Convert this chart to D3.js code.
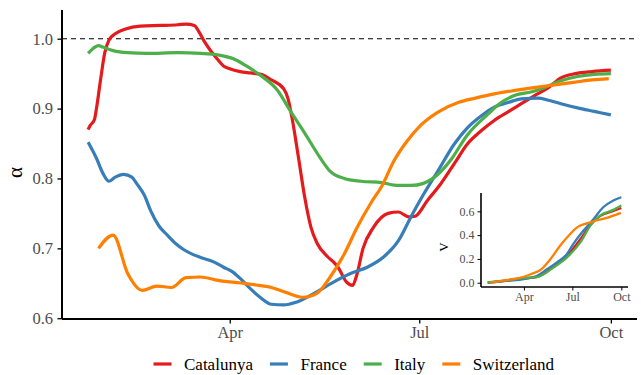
<!DOCTYPE html>
<html>
<head>
<meta charset="utf-8">
<script src="https://cdn.jsdelivr.net/npm/d3@7"></script>
<style>
  html, body { margin: 0; padding: 0; background: #fff; }
  svg { display: block; font-family: "Liberation Serif", "Times New Roman", serif; }
</style>
</head>
<body>
<svg id="chart" width="641" height="375"></svg>
<script>
// Series order drives drawing order and the legend.
const countries = ["Catalunya", "France", "Italy", "Switzerland"];

// Effective alpha per country, [date, value].
const alphaCatalunya = [
  ["2020-01-24",0.870],["2020-01-25",0.876],["2020-01-27",0.884],["2020-01-28",0.900],
  ["2020-01-30",0.942],["2020-02-01",0.980],["2020-02-03",0.998],["2020-02-06",1.007],
  ["2020-02-11",1.014],["2020-02-18",1.018],["2020-02-28",1.019],["2020-03-07",1.020],
  ["2020-03-11",1.021],["2020-03-15",1.019],["2020-03-17",1.011],["2020-03-20",0.995],
  ["2020-03-23",0.982],["2020-03-26",0.971],["2020-03-29",0.961],["2020-04-01",0.957],
  ["2020-04-06",0.953],["2020-04-11",0.951],["2020-04-16",0.949],["2020-04-21",0.941],
  ["2020-04-27",0.928],["2020-04-29",0.914],["2020-05-01",0.885],["2020-05-04",0.830],
  ["2020-05-07",0.773],["2020-05-10",0.730],["2020-05-13",0.707],["2020-05-18",0.688],
  ["2020-05-21",0.680],["2020-05-23",0.673],["2020-05-27",0.652],["2020-05-30",0.647],
  ["2020-06-01",0.662],["2020-06-04",0.700],["2020-06-09",0.730],["2020-06-16",0.750],
  ["2020-06-21",0.752],["2020-06-26",0.745],["2020-06-29",0.746],["2020-07-05",0.769],
  ["2020-07-11",0.791],["2020-07-18",0.822],["2020-07-24",0.849],["2020-07-31",0.869],
  ["2020-08-06",0.883],["2020-08-13",0.896],["2020-08-19",0.907],["2020-08-25",0.918],
  ["2020-09-01",0.930],["2020-09-07",0.944],["2020-09-14",0.950],["2020-09-22",0.953],
  ["2020-10-01",0.955]
];
const alphaFrance = [
  ["2020-01-24",0.852],["2020-01-28",0.829],["2020-01-31",0.808],["2020-02-03",0.796],
  ["2020-02-06",0.802],["2020-02-10",0.806],["2020-02-14",0.802],["2020-02-16",0.794],
  ["2020-02-20",0.776],["2020-02-23",0.754],["2020-02-27",0.732],["2020-03-02",0.719],
  ["2020-03-06",0.707],["2020-03-10",0.698],["2020-03-18",0.687],["2020-03-24",0.681],
  ["2020-03-29",0.673],["2020-04-02",0.667],["2020-04-06",0.657],["2020-04-11",0.642],
  ["2020-04-16",0.629],["2020-04-21",0.620],["2020-04-27",0.619],["2020-05-03",0.623],
  ["2020-05-13",0.638],["2020-05-21",0.652],["2020-05-29",0.664],["2020-06-06",0.673],
  ["2020-06-14",0.688],["2020-06-21",0.711],["2020-06-27",0.745],["2020-07-03",0.777],
  ["2020-07-10",0.811],["2020-07-18",0.850],["2020-07-24",0.872],["2020-07-31",0.890],
  ["2020-08-06",0.902],["2020-08-13",0.909],["2020-08-19",0.914],["2020-08-27",0.915],
  ["2020-09-01",0.912],["2020-09-07",0.907],["2020-09-15",0.901],["2020-09-23",0.896],
  ["2020-10-01",0.891]
];
const alphaItaly = [
  ["2020-01-24",0.979],["2020-01-26",0.985],["2020-01-29",0.990],["2020-01-31",0.988],
  ["2020-02-05",0.983],["2020-02-12",0.980],["2020-02-21",0.979],["2020-03-07",0.980],
  ["2020-03-18",0.979],["2020-03-26",0.977],["2020-04-03",0.971],["2020-04-09",0.961],
  ["2020-04-16",0.947],["2020-04-24",0.926],["2020-04-30",0.897],["2020-05-07",0.865],
  ["2020-05-15",0.827],["2020-05-19",0.811],["2020-05-26",0.800],["2020-06-03",0.796],
  ["2020-06-13",0.794],["2020-06-21",0.790],["2020-06-27",0.790],["2020-07-03",0.793],
  ["2020-07-10",0.806],["2020-07-16",0.826],["2020-07-24",0.862],["2020-08-03",0.892],
  ["2020-08-09",0.908],["2020-08-16",0.919],["2020-08-24",0.924],["2020-08-30",0.930],
  ["2020-09-07",0.940],["2020-09-15",0.946],["2020-09-23",0.949],["2020-10-01",0.950]
];
const alphaSwitzerland = [
  ["2020-01-29",0.700],["2020-02-05",0.719],["2020-02-12",0.664],["2020-02-19",0.640],
  ["2020-02-26",0.646],["2020-03-04",0.644],["2020-03-11",0.658],["2020-03-18",0.659],
  ["2020-03-25",0.655],["2020-04-01",0.652],["2020-04-08",0.650],["2020-04-15",0.647],
  ["2020-04-21",0.644],["2020-04-27",0.638],["2020-05-06",0.630],["2020-05-13",0.636],
  ["2020-05-19",0.658],["2020-05-26",0.692],["2020-06-01",0.729],["2020-06-08",0.766],
  ["2020-06-13",0.789],["2020-06-19",0.826],["2020-06-25",0.853],["2020-07-02",0.877],
  ["2020-07-10",0.895],["2020-07-20",0.909],["2020-07-28",0.915],["2020-08-06",0.921],
  ["2020-08-16",0.926],["2020-08-25",0.930],["2020-09-04",0.934],["2020-09-14",0.938],
  ["2020-09-22",0.941],["2020-09-30",0.943]
];

// Cumulative V per country (inset).
const vCatalunya = [
  ["2020-01-24",0.000],["2020-03-01",0.018],["2020-04-01",0.036],["2020-04-26",0.050],
  ["2020-05-27",0.135],["2020-06-21",0.228],["2020-07-16",0.365],["2020-08-04",0.488],
  ["2020-08-22",0.560],["2020-09-16",0.603],["2020-10-01",0.628]
];
const vFrance = [
  ["2020-01-24",0.000],["2020-03-01",0.017],["2020-04-01",0.031],["2020-04-26",0.059],
  ["2020-05-15",0.115],["2020-06-02",0.171],["2020-06-21",0.242],["2020-07-03",0.326],
  ["2020-07-22",0.438],["2020-08-10",0.536],["2020-08-28",0.634],["2020-09-16",0.690],
  ["2020-10-01",0.718]
];
const vItaly = [
  ["2020-01-24",0.003],["2020-03-01",0.021],["2020-04-01",0.040],["2020-04-26",0.047],
  ["2020-05-27",0.129],["2020-06-21",0.213],["2020-07-16",0.339],["2020-08-04",0.480],
  ["2020-08-22",0.564],["2020-09-16",0.612],["2020-10-01",0.648]
];
const vSwitzerland = [
  ["2020-01-29",0.000],["2020-03-01",0.023],["2020-04-01",0.050],["2020-04-16",0.075],
  ["2020-05-02",0.107],["2020-05-21",0.199],["2020-06-08",0.311],["2020-06-27",0.410],
  ["2020-07-10",0.465],["2020-07-16",0.480],["2020-08-10",0.516],["2020-09-04",0.545],
  ["2020-09-30",0.587]
];

const alphaTicks = [0.6, 0.7, 0.8, 0.9, 1.0];
const vTicks = [0.0, 0.2, 0.4, 0.6];
const monthTicks = [["2020-04-01","Apr"],["2020-07-01","Jul"],["2020-10-01","Oct"]];
const referenceAlpha = 1.0;

const palette = { Catalunya: "#E41A1C", France: "#377EB8", Italy: "#4DAF4A", Switzerland: "#FF7F00" };

const parse = d3.utcParse("%Y-%m-%d");
const toPoints = arr => arr.map(([d, v]) => ({ date: parse(d), value: v }));

const alphaSeries = [alphaCatalunya, alphaFrance, alphaItaly, alphaSwitzerland]
  .map((arr, i) => ({ name: countries[i], points: toPoints(arr) }));
const vSeries = [vCatalunya, vFrance, vItaly, vSwitzerland]
  .map((arr, i) => ({ name: countries[i], points: toPoints(arr) }));

// ggplot-like 5% padding around the data range
function padded(extent, frac) {
  const span = extent[1] - extent[0];
  return [extent[0] - span * frac, extent[1] + span * frac];
}
function paddedTime(extent, frac) {
  const span = extent[1] - extent[0];
  return [new Date(+extent[0] - span * frac), new Date(+extent[1] + span * frac)];
}

const svg = d3.select("#chart");
const font = '"Liberation Serif", "Times New Roman", serif';
const tickGrey = "#4D4D4D";

// ---------- main panel ----------
const main = { left: 62, right: 637, top: 10, bottom: 319 };
const allAlpha = alphaSeries.flatMap(s => s.points);
const x = d3.scaleUtc()
  .domain(paddedTime(d3.extent(allAlpha, p => p.date), 0.05))
  .range([main.left, main.right]);
const y = d3.scaleLinear()
  .domain(padded(d3.extent(allAlpha, p => p.value), 0.05))
  .range([main.bottom, main.top]);

const line = d3.line()
  .x(p => x(p.date)).y(p => y(p.value))
  .curve(d3.curveMonotoneX);

// reference line at alpha = 1
svg.append("line")
  .attr("x1", main.left).attr("x2", main.right)
  .attr("y1", y(referenceAlpha)).attr("y2", y(referenceAlpha))
  .attr("stroke", "#000").attr("stroke-width", 1.1)
  .attr("stroke-dasharray", "5,4");

svg.append("g").selectAll("path")
  .data(alphaSeries).join("path")
  .attr("d", s => line(s.points))
  .attr("fill", "none")
  .attr("stroke", s => palette[s.name])
  .attr("stroke-width", 3.2)
  .attr("stroke-linejoin", "round")
  .attr("stroke-linecap", "butt");

// axes
const yAxis = svg.append("g")
  .attr("transform", `translate(${main.left},0)`)
  .call(d3.axisLeft(y).tickValues(alphaTicks).tickFormat(d3.format(".1f"))
    .tickSize(4.5).tickPadding(4).tickSizeOuter(0));
yAxis.select(".domain").attr("d", `M0,${main.top}V${main.bottom}`);
const xAxis = svg.append("g")
  .attr("transform", `translate(0,${main.bottom})`)
  .call(d3.axisBottom(x).tickValues(monthTicks.map(t => parse(t[0])))
    .tickFormat((d, i) => monthTicks[i][1]).tickSize(4.5).tickPadding(3).tickSizeOuter(0));
xAxis.select(".domain").attr("d", `M${main.left},0H${main.right}`);

[yAxis, xAxis].forEach(g => {
  g.select(".domain").attr("stroke", "#000").attr("stroke-width", 2);
  g.selectAll(".tick line").attr("stroke", "#000").attr("stroke-width", 1.3);
  g.selectAll(".tick text").attr("fill", tickGrey)
    .style("font-family", font).style("font-size", "16.5px");
});
yAxis.selectAll(".tick text").attr("x", -9);

svg.append("text")
  .attr("transform", `translate(21.5,${(main.top + main.bottom) / 2 + 8}) rotate(-90)`)
  .attr("text-anchor", "middle")
  .style("font-family", font).style("font-size", "21px")
  .attr("fill", "#000")
  .text("α");

// ---------- inset panel ----------
const inset = { left: 481, right: 628, top: 193, bottom: 287 };
const allV = vSeries.flatMap(s => s.points);
const xi = d3.scaleUtc().domain(x.domain()).range([inset.left, inset.right]);
const yi = d3.scaleLinear()
  .domain(padded(d3.extent(allV, p => p.value), 0.05))
  .range([inset.bottom, inset.top]);
const lineInset = d3.line()
  .x(p => xi(p.date)).y(p => yi(p.value))
  .curve(d3.curveMonotoneX);

svg.append("g").selectAll("path")
  .data(vSeries).join("path")
  .attr("d", s => lineInset(s.points))
  .attr("fill", "none")
  .attr("stroke", s => palette[s.name])
  .attr("stroke-width", 2.3)
  .attr("stroke-linejoin", "round");

const yiAxis = svg.append("g")
  .attr("transform", `translate(${inset.left},0)`)
  .call(d3.axisLeft(yi).tickValues(vTicks).tickFormat(d3.format(".1f"))
    .tickSize(3.5).tickPadding(3).tickSizeOuter(0));
yiAxis.select(".domain").attr("d", `M0,${inset.top}V${inset.bottom}`);
const xiAxis = svg.append("g")
  .attr("transform", `translate(0,${inset.bottom})`)
  .call(d3.axisBottom(xi).tickValues(monthTicks.map(t => parse(t[0])))
    .tickFormat((d, i) => monthTicks[i][1]).tickSize(3.5).tickPadding(2).tickSizeOuter(0));
xiAxis.select(".domain").attr("d", `M${inset.left},0H${inset.right}`);
[yiAxis, xiAxis].forEach(g => {
  g.select(".domain").attr("stroke", "#000").attr("stroke-width", 1.6);
  g.selectAll(".tick line").attr("stroke", "#000").attr("stroke-width", 1);
  g.selectAll(".tick text").attr("fill", tickGrey)
    .style("font-family", font).style("font-size", "12px");
});

svg.append("text")
  .attr("transform", `translate(447.5,${yi(0.3)}) rotate(-90)`)
  .attr("text-anchor", "middle")
  .style("font-family", font).style("font-size", "13px")
  .attr("fill", "#000")
  .text("V");

// ---------- legend ----------
const legend = svg.append("g").attr("transform", "translate(153.5,364)");
let cursor = 0;
countries.forEach(name => {
  const item = legend.append("g").attr("transform", `translate(${cursor},0)`);
  item.append("line")
    .attr("x1", 0).attr("x2", 18).attr("y1", 0).attr("y2", 0)
    .attr("stroke", palette[name]).attr("stroke-width", 3.2);
  const label = item.append("text")
    .attr("x", 30.5).attr("y", 5.8)
    .style("font-family", font).style("font-size", "17px")
    .attr("fill", "#000")
    .text(name);
  cursor += 30.5 + label.node().getComputedTextLength() + 17;
});
</script>
</body>
</html>
